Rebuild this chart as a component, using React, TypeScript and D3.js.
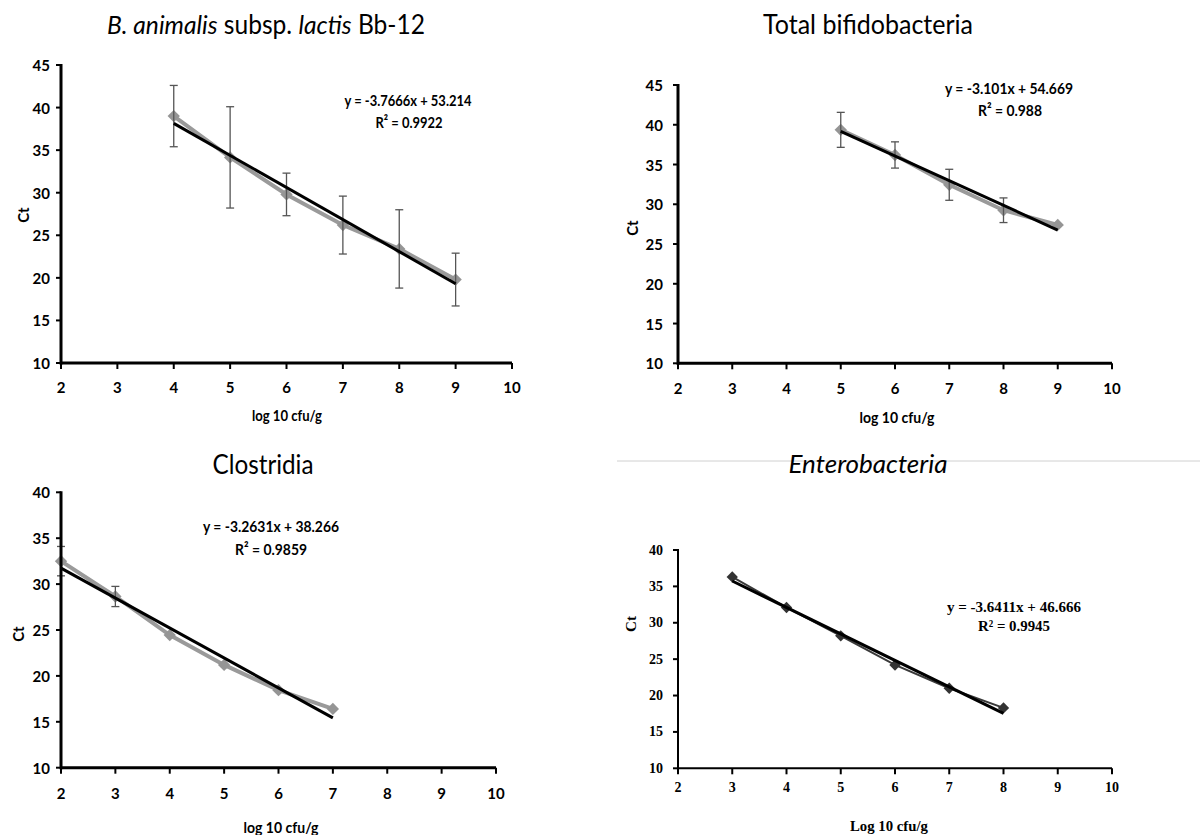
import React from "react";
import * as d3 from "d3";

// ---------- data ----------
const xTicks = [2, 3, 4, 5, 6, 7, 8, 9, 10];

const bbX = [4, 5, 6, 7, 8, 9];
const bbCt = [39.0, 34.15, 29.8, 26.2, 23.4, 19.8];
const bbErr = [3.6, 5.95, 2.5, 3.4, 4.6, 3.1];
const bbFit = { slope: -3.7666, intercept: 53.214, r2: "0.9922" };

const totX = [5, 6, 7, 8, 9];
const totCt = [39.36, 36.2, 32.45, 29.25, 27.4];
const totErr = [2.2, 1.65, 1.95, 1.55, 0];
const totFit = { slope: -3.101, intercept: 54.669, r2: "0.988" };

const cloX = [2, 3, 4, 5, 6, 7];
const cloCt = [32.5, 28.65, 24.45, 21.2, 18.45, 16.4];
const cloErr = [1.6, 1.1, 0, 0, 0, 0];
const cloFit = { slope: -3.2631, intercept: 38.266, r2: "0.9859" };

const entX = [3, 4, 5, 6, 7, 8];
const entCt = [36.3, 32.1, 28.2, 24.2, 21.0, 18.3];
const entFit = { slope: -3.6411, intercept: 46.666, r2: "0.9945" };

const yTicks45 = [10, 15, 20, 25, 30, 35, 40, 45];
const yTicks40 = [10, 15, 20, 25, 30, 35, 40];

const SANS = "Lato, 'Open Sans', sans-serif";
const SERIF = "'Liberation Serif', 'Times New Roman', serif";

type PanelProps = {
  xs: number[];
  ys: number[];
  errs?: number[];
  fit: { slope: number; intercept: number; r2: string };
  xRange: [number, number];
  yRange: [number, number];
  yDomain: [number, number];
  yTicks: number[];
  serif?: boolean;
  yLabelRight: number;
  xLabelY: number;
  axisLabel: string;
  axisLabelPos: [number, number];
  axisLabelWidth: number;
  ctPos: [number, number];
  eqPos: [number, number];
  eqWidth: number;
  r2Pos: [number, number];
  r2Width: number;
};

function Panel(p: PanelProps) {
  const x = d3.scaleLinear().domain([2, 10]).range(p.xRange);
  const y = d3.scaleLinear().domain(p.yDomain).range(p.yRange);
  const font = p.serif ? SERIF : SANS;
  const axisW = p.serif ? 2 : 3;
  const dataColor = p.serif ? "#3a3a3a" : "#9a9a9a";
  const markColor = p.serif ? "#333" : "#959595";
  const tickFs = p.serif ? 14 : 15;
  const pts = p.xs.map((v, i) => [v, p.ys[i]] as [number, number]);
  const line = d3
    .line<[number, number]>()
    .x((d) => x(d[0]))
    .y((d) => y(d[1]));
  const x0 = d3.min(p.xs)!;
  const x1 = d3.max(p.xs)!;
  const fitPts: [number, number][] = [
    [x0, p.fit.slope * x0 + p.fit.intercept],
    [x1, p.fit.slope * x1 + p.fit.intercept],
  ];
  const sq = d3.symbol(d3.symbolSquare, p.serif ? 64 : 76)()!;
  const y0 = p.yRange[0];
  const eq = `y = ${p.fit.slope}x + ${p.fit.intercept.toFixed(3)}`;
  return (
    <g>
      <path
        d={line(pts)!}
        fill="none"
        stroke={dataColor}
        strokeWidth={p.serif ? 2 : 4}
      />
      {pts.map((d, i) => (
        <path
          key={"m" + i}
          d={sq}
          fill={markColor}
          transform={`translate(${x(d[0])},${y(d[1])}) rotate(45)`}
        />
      ))}
      {p.errs &&
        pts.map((d, i) =>
          p.errs![i] > 0 ? (
            <g key={"e" + i} stroke="#555" strokeWidth={1.3}>
              <line
                x1={x(d[0])}
                x2={x(d[0])}
                y1={y(d[1] + p.errs![i])}
                y2={y(d[1] - p.errs![i])}
              />
              <line
                x1={x(d[0]) - 4}
                x2={x(d[0]) + 4}
                y1={y(d[1] + p.errs![i])}
                y2={y(d[1] + p.errs![i])}
              />
              <line
                x1={x(d[0]) - 4}
                x2={x(d[0]) + 4}
                y1={y(d[1] - p.errs![i])}
                y2={y(d[1] - p.errs![i])}
              />
            </g>
          ) : null
        )}
      <path d={line(fitPts)!} fill="none" stroke="#000" strokeWidth={3} />
      <line
        x1={p.xRange[0]}
        x2={p.xRange[0]}
        y1={p.yRange[1] - 1}
        y2={y0 + axisW / 2}
        stroke="#000"
        strokeWidth={axisW}
      />
      <line
        x1={p.xRange[0]}
        x2={p.xRange[1]}
        y1={y0}
        y2={y0}
        stroke="#000"
        strokeWidth={axisW}
      />
      {p.yTicks.map((t) => (
        <g key={"yt" + t}>
          <line
            x1={p.xRange[0] - 5}
            x2={p.xRange[0]}
            y1={y(t)}
            y2={y(t)}
            stroke="#000"
            strokeWidth={2}
          />
          <text
            x={p.yLabelRight}
            y={y(t)}
            textAnchor="end"
            dominantBaseline="central"
            fontFamily={font}
            fontWeight="bold"
            fontSize={tickFs}
          >
            {t}
          </text>
        </g>
      ))}
      {xTicks.map((t) => (
        <g key={"xt" + t}>
          <line
            x1={x(t)}
            x2={x(t)}
            y1={y0}
            y2={y0 + 6}
            stroke="#000"
            strokeWidth={2}
          />
          <text
            x={x(t)}
            y={p.xLabelY}
            textAnchor="middle"
            dominantBaseline="central"
            fontFamily={font}
            fontWeight="bold"
            fontSize={tickFs}
          >
            {t}
          </text>
        </g>
      ))}
      <text
        x={p.axisLabelPos[0]}
        y={p.axisLabelPos[1]}
        textAnchor="middle"
        dominantBaseline="central"
        fontFamily={font}
        fontWeight="bold"
        fontSize={15}
        textLength={p.axisLabelWidth}
        lengthAdjust="spacingAndGlyphs"
      >
        {p.axisLabel}
      </text>
      <text
        transform={`translate(${p.ctPos[0]},${p.ctPos[1]}) rotate(-90)`}
        textAnchor="middle"
        dominantBaseline="central"
        fontFamily={font}
        fontWeight="bold"
        fontSize={15}
      >
        Ct
      </text>
      <text
        x={p.eqPos[0]}
        y={p.eqPos[1]}
        textAnchor="middle"
        dominantBaseline="central"
        fontFamily={font}
        fontWeight="bold"
        fontSize={p.serif ? 15.5 : 16}
        textLength={p.eqWidth}
        lengthAdjust="spacingAndGlyphs"
      >
        {eq}
      </text>
      <text
        x={p.r2Pos[0]}
        y={p.r2Pos[1]}
        textAnchor="middle"
        dominantBaseline="central"
        fontFamily={font}
        fontWeight="bold"
        fontSize={p.serif ? 15.5 : 16}
        textLength={p.r2Width}
        lengthAdjust="spacingAndGlyphs"
      >
        {`R² = ${p.fit.r2}`}
      </text>
    </g>
  );
}

export default function App() {
  return (
    <svg
      width={1200}
      height={835}
      style={{ position: "absolute", left: 0, top: 0, background: "#fff" }}
    >
      <rect width={1200} height={835} fill="#fff" />
      <text
        x={266}
        y={34}
        textAnchor="middle"
        fontFamily={SANS}
        fontSize={26}
        textLength={318}
        lengthAdjust="spacingAndGlyphs"
      >
        <tspan fontStyle="italic">B. animalis</tspan>
        <tspan> subsp. </tspan>
        <tspan fontStyle="italic">lactis</tspan>
        <tspan> Bb-12</tspan>
      </text>
      <text
        x={868}
        y={34}
        textAnchor="middle"
        fontFamily={SANS}
        fontSize={26}
        textLength={210}
        lengthAdjust="spacingAndGlyphs"
      >
        Total bifidobacteria
      </text>
      <text
        x={263}
        y={474}
        textAnchor="middle"
        fontFamily={SANS}
        fontSize={26}
        textLength={101}
        lengthAdjust="spacingAndGlyphs"
      >
        Clostridia
      </text>
      <line x1={617} x2={1200} y1={461} y2={461} stroke="#d0d0d0" strokeWidth={1} />
      <text
        x={868}
        y={473}
        textAnchor="middle"
        fontFamily={SANS}
        fontStyle="italic"
        fontSize={26}
        textLength={159}
        lengthAdjust="spacingAndGlyphs"
      >
        Enterobacteria
      </text>

      <Panel
        xs={bbX}
        ys={bbCt}
        errs={bbErr}
        fit={bbFit}
        xRange={[61, 512]}
        yRange={[363, 65]}
        yDomain={[10, 45]}
        yTicks={yTicks45}
        yLabelRight={50}
        xLabelY={387}
        axisLabel="log 10 cfu/g"
        axisLabelPos={[287, 415]}
        axisLabelWidth={70}
        ctPos={[23, 215]}
        eqPos={[408, 99]}
        eqWidth={127}
        r2Pos={[409, 121]}
        r2Width={67}
      />
      <Panel
        xs={totX}
        ys={totCt}
        errs={totErr}
        fit={totFit}
        xRange={[678, 1112]}
        yRange={[363.3, 85]}
        yDomain={[10, 45]}
        yTicks={yTicks45}
        yLabelRight={663}
        xLabelY={388}
        axisLabel="log 10 cfu/g"
        axisLabelPos={[897, 417]}
        axisLabelWidth={75}
        ctPos={[632, 228]}
        eqPos={[1009, 87]}
        eqWidth={128}
        r2Pos={[1010, 109]}
        r2Width={64}
      />
      <Panel
        xs={cloX}
        ys={cloCt}
        errs={cloErr}
        fit={cloFit}
        xRange={[61, 496]}
        yRange={[767.7, 492.3]}
        yDomain={[10, 40]}
        yTicks={yTicks40}
        yLabelRight={50}
        xLabelY={793}
        axisLabel="log 10 cfu/g"
        axisLabelPos={[281, 827]}
        axisLabelWidth={75}
        ctPos={[18, 634]}
        eqPos={[271, 525]}
        eqWidth={136}
        r2Pos={[271, 548]}
        r2Width={72}
      />
      <Panel
        xs={entX}
        ys={entCt}
        fit={entFit}
        xRange={[678, 1112]}
        yRange={[768.3, 550]}
        yDomain={[10, 40]}
        yTicks={yTicks40}
        serif
        yLabelRight={663}
        xLabelY={787}
        axisLabel="Log 10 cfu/g"
        axisLabelPos={[889, 826]}
        axisLabelWidth={78}
        ctPos={[631, 624]}
        eqPos={[1014, 606]}
        eqWidth={134}
        r2Pos={[1014, 625]}
        r2Width={72}
      />
    </svg>
  );
}
